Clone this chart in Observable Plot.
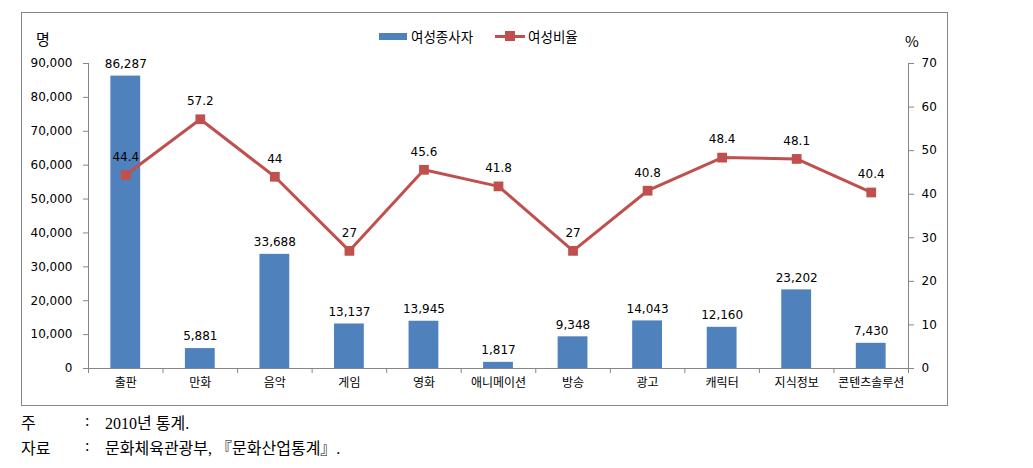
<!DOCTYPE html>
<html><head><meta charset="utf-8">
<script src="https://cdn.jsdelivr.net/npm/d3@7"></script>
<script src="https://cdn.jsdelivr.net/npm/@observablehq/plot@0.6"></script>
<style>
body{margin:0;background:#fff;}
#wrap{position:relative;width:1033px;height:468px;overflow:hidden;font-family:"DejaVu Sans","Noto Sans CJK KR",sans-serif;}
#frame{position:absolute;left:21px;top:12px;width:925px;height:392px;border:1px solid #868686;}
#chart{position:absolute;left:0;top:0;}
.unit{position:absolute;font-size:15px;color:#000;font-family:"Noto Sans CJK KR",sans-serif;}
#legend{position:absolute;top:26px;left:379px;font-size:13.5px;font-family:"Noto Sans CJK KR",sans-serif;display:flex;align-items:center;color:#000;}
.sw-bar{display:inline-block;width:28px;height:7px;background:#4F81BD;margin-right:4px;}
.sw-line{display:inline-block;position:relative;width:30px;height:3px;background:#C0504D;margin-right:3px;margin-left:22px;}
.sw-line:after{content:"";position:absolute;left:10px;top:-3.5px;width:10px;height:10px;background:#C0504D;}
.note{position:absolute;left:21px;font-size:16px;font-family:"Liberation Serif","Noto Sans CJK KR",serif;color:#000;white-space:nowrap;}
.note span{position:absolute;}
</style></head>
<body><div id="wrap">
<div id="frame"></div>
<div id="chart"></div>
<div class="unit" style="left:36px;top:28px;">명</div>
<div class="unit" style="left:905px;top:30px;">%</div>
<div id="legend"><span class="sw-bar"></span><span>여성종사자</span><span class="sw-line"></span><span>여성비율</span></div>
<div class="note" style="top:410px;"><span style="left:0">주</span><span style="left:64px;top:2px">:</span><span style="left:84px">2010년 통계.</span></div>
<div class="note" style="top:435px;"><span style="left:0">자료</span><span style="left:64px;top:2px">:</span><span style="left:84px">문화체육관광부, 『문화산업통계』.</span></div>
</div>
<script>
const categories = ["출판","만화","음악","게임","영화","애니메이션","방송","광고","캐릭터","지식정보","콘텐츠솔루션"];
const workers = [86287,5881,33688,13137,13945,1817,9348,14043,12160,23202,7430];
const ratio = [44.4,57.2,44,27,45.6,41.8,27,40.8,48.4,48.1,40.4];
const leftTicks = [0,10000,20000,30000,40000,50000,60000,70000,80000,90000];
const rightTicks = [0,10,20,30,40,50,60,70];

const leftMax = 90000, rightMax = 70;
const k = leftMax / rightMax;
const data = categories.map((c,i)=>({i, c, w: workers[i], r: ratio[i], rs: ratio[i]*k}));
const bounds = d3.range(-0.5, categories.length, 1);
const BLUE = "#4F81BD", RED = "#C0504D", AX = "#868686";

const chart = Plot.plot({
  width: 1033, height: 410,
  marginLeft: 88, marginRight: 125, marginTop: 63, marginBottom: 42,
  style: {fontFamily: '"DejaVu Sans","Noto Sans CJK KR",sans-serif', fontSize: "12px", color: "#000", background: "transparent"},
  x: {type: "linear", domain: [-0.5, categories.length - 0.5], axis: null, label: null},
  y: {domain: [0, leftMax], axis: null, label: null},
  marks: [
    Plot.rectY(data, {x1: d => d.i - 0.2, x2: d => d.i + 0.2, y: "w", fill: BLUE}),
    Plot.ruleY([0], {stroke: AX}),
    Plot.ruleX([bounds[0], bounds[bounds.length-1]], {stroke: AX}),
    Plot.axisX({ticks: bounds, tickFormat: () => "", tickSize: 5, stroke: AX, label: null}),
    Plot.axisX({ticks: data.map(d => d.i), tickFormat: i => categories[i], tickSize: 0, tickPadding: 10, fontSize: 12, label: null}),
    Plot.axisY({anchor: "left", ticks: leftTicks, tickFormat: d3.format(","), tickSize: 5, tickPadding: 11, stroke: AX, fontSize: 12, label: null}),
    Plot.axisY({anchor: "right", ticks: rightTicks.map(v => v*k), tickFormat: v => Math.round(v/k), tickSize: 5, tickPadding: 8, stroke: AX, fontSize: 12, label: null}),
    Plot.line(data, {x: "i", y: "rs", stroke: RED, strokeWidth: 3}),
    Plot.dot(data, {x: "i", y: "rs", symbol: "square", r: 5.5, fill: RED, stroke: "none"}),
    Plot.text(data, {x: "i", y: "w", text: d => d3.format(",")(d.w), dy: -12, fill: "#000", fontSize: 12}),
    Plot.text(data, {x: "i", y: "rs", text: d => String(d.r), dy: -18, fill: "#000", fontSize: 12})
  ]
});
document.getElementById("chart").appendChild(chart);
</script>
</body></html>
